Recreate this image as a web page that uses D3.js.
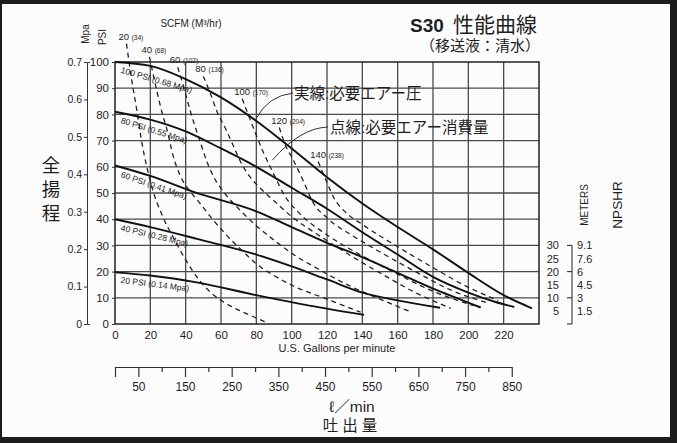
<!DOCTYPE html>
<html><head><meta charset="utf-8">
<script src="https://cdn.jsdelivr.net/npm/d3@7"></script>
<style>
html,body{margin:0;padding:0;background:#1c1c1c;}
svg{display:block;}
text{font-family:"Liberation Sans",Arial,sans-serif;fill:#1e1e1e;}
.jp{font-family:"Liberation Sans","Noto Sans CJK JP",sans-serif;}
</style></head><body>
<svg id="chart" width="677" height="443"></svg>
<script>
// ---- axis ticks ----
const gpmTicks = d3.range(0, 221, 20);
const psiTicks = d3.range(0, 101, 10);
const mpaTicks = [0, 0.1, 0.2, 0.3, 0.4, 0.5, 0.6, 0.7];
const lpmTicks = d3.range(0, 851, 50);
const npshFeet = [30, 25, 20, 15, 10, 5];
const npshMeters = ["9.1", "7.6", "6", "4.5", "3", "1.5"];

// ---- head vs flow at each air inlet pressure (GPM, PSI) ----
const psi100 = [[0,100],[20,98.5],[40,93.5],[60,86.5],[80,77.5],[100,67],[120,56],[140,46],[160,37],[180,28.5],[200,19.5],[220,11],[236,6]];
const psi80  = [[0,81],[20,78],[40,73.5],[60,67],[80,60],[100,52],[120,44],[140,35],[160,26.5],[180,18],[200,12],[215,8.5],[226,6.5]];
const psi60  = [[0,60.5],[20,56.5],[45,50.3],[80,43],[100,37],[120,31],[140,25.5],[160,19.5],[180,13.5],[195,9.5],[207,6.3]];
const psi40  = [[0,40],[20,37],[47,32.4],[80,26.5],[100,22],[120,17],[140,12],[160,9],[184,6.2]];
const psi20  = [[0,19.7],[20,18.5],[47,15.8],[80,11],[110,7],[141,3.5]];
const pressureLabels = ["100 PSI (0.68 Mpa)", "80 PSI (0.55 Mpa)", "60 PSI (0.41 Mpa)", "40 PSI (0.28 Mpa)", "20 PSI (0.14 Mpa)"];

// ---- air consumption lines, SCFM (GPM, PSI) ----
const scfm20  = [[6.5,107],[9.5,93],[12.5,81],[15,70],[18,60],[21,52],[27,41],[33,33],[40,24.5],[48,16.5],[56,11],[65,7],[75,3.8],[86,0.5]];
const scfm40  = [[19.5,102],[23.5,89.5],[26.5,81],[29.5,74],[33,64],[37,56.5],[42,51],[47,47],[54,41],[63,34],[72,28],[80,23],[90,18.5],[101,14.5],[120,9.5],[139,4.5]];
const scfm60  = [[35.5,98],[39.5,89],[42.5,81.5],[45.5,75],[48.5,69],[52,62],[56,56],[62,50],[70,44],[80,37.5],[90,32],[100,27],[115,21],[130,15.5],[150,9.5],[168,4.5]];
const scfm80  = [[50,94.5],[54,88],[57.5,81.5],[63,74],[67,68],[71,62],[76,56.5],[82,52],[90,47],[100,41],[115,34],[130,27.5],[150,19.5],[170,12],[190,6]];
const scfm100 = [[72,86],[76.5,78],[80,72],[84,65.5],[90,57],[96,49],[104,42.5],[120,34],[140,26],[160,19],[180,12.5],[203,7]];
const scfm120 = [[93,75],[96,69],[101,62.5],[107,54],[112,46.5],[120,40.5],[135,33.5],[150,27.5],[170,20],[190,13],[211,8]];
const scfm140 = [[115,62],[120,54],[124,48],[130,43],[140,38],[160,29.5],[180,21.5],[200,14],[217,9]];
const scfmValues = ["20", "40", "60", "80", "100", "120", "140"];
const scfmM3 = ["(34)", "(68)", "(102)", "(136)", "(170)", "(204)", "(238)"];

const pressureCurves = [psi100, psi80, psi60, psi40, psi20];
const airCurves = [scfm20, scfm40, scfm60, scfm80, scfm100, scfm120, scfm140];

const svg = d3.select("#chart");
const W = 677, H = 443;

// page
svg.append("rect").attr("width", W).attr("height", H).attr("fill", "#1c1c1c");
svg.append("rect").attr("x", 2).attr("y", 4).attr("width", 668).attr("height", 433).attr("fill", "#fcfcfc");

// scales
const x = d3.scaleLinear().domain([0, 240]).range([115, 539]);
const y = d3.scaleLinear().domain([0, 100]).range([324, 62]);
const yM = d3.scaleLinear().domain([0, 0.7]).range([324, 62]);
const LPG = 3.785;
const xL = d3.scaleLinear().domain([0, 850]).range([x(0), x(850 / LPG)]);

// grid
const grid = svg.append("g").attr("stroke", "#4a4a4a").attr("stroke-width", 1.3);
d3.range(20, 240, 20).forEach(v => grid.append("line")
  .attr("x1", x(v)).attr("x2", x(v)).attr("y1", y(0)).attr("y2", y(100)));
d3.range(10, 100, 10).forEach(v => grid.append("line")
  .attr("x1", x(0)).attr("x2", x(240)).attr("y1", y(v)).attr("y2", y(v)));
svg.append("rect").attr("x", x(0)).attr("y", y(100))
  .attr("width", x(240) - x(0)).attr("height", y(0) - y(100))
  .attr("fill", "none").attr("stroke", "#222").attr("stroke-width", 1.5);

function styleAxis(g, size) {
  g.selectAll("text").attr("font-family", "Liberation Sans, Arial, sans-serif")
    .attr("font-size", size).attr("fill", "#222");
  g.selectAll("line,path").attr("stroke", "#333");
  g.attr("font-family", null).attr("font-size", null);
}

// PSI axis
const gPsi = svg.append("g").attr("transform", `translate(${x(0)},0)`)
  .call(d3.axisLeft(y).tickValues(psiTicks).tickSize(3).tickPadding(3).tickSizeOuter(0));
gPsi.select(".domain").remove();
styleAxis(gPsi, 11.5);

// Mpa axis
const gMpa = svg.append("g").attr("transform", "translate(87,0)")
  .call(d3.axisLeft(yM).tickValues(mpaTicks).tickSize(3).tickPadding(2).tickSizeOuter(-3)
    .tickFormat(d => d === 0 ? "0" : d.toFixed(1)));
styleAxis(gMpa, 10.5);
gMpa.selectAll("text").attr("fill", "#333");

// GPM axis
const gX = svg.append("g").attr("transform", `translate(0,${y(0)})`)
  .call(d3.axisBottom(x).tickValues(gpmTicks).tickSize(0).tickPadding(7));
gX.select(".domain").remove();
styleAxis(gX, 11.5);

svg.append("text").attr("x", 337).attr("y", 352).attr("text-anchor", "middle")
  .attr("font-size", 11).text("U.S. Gallons per minute");

// l/min axis
const gL = svg.append("g").attr("transform", "translate(0,367)")
  .call(d3.axisBottom(xL).tickValues(lpmTicks).tickSize(10).tickPadding(5).tickSizeOuter(0)
    .tickFormat(d => (d % 100 === 50) ? d : ""));
gL.selectAll(".tick line").filter(d => d % 100 === 0 && d > 0).attr("y2", 5);
styleAxis(gL, 12);
gL.selectAll("line,path").attr("stroke", "#333").attr("stroke-width", 1.2);

svg.append("text").attr("class", "jp").attr("x", 352).attr("y", 412).attr("text-anchor", "middle")
  .attr("font-size", 15.5).text("ℓ／min");
svg.append("text").attr("class", "jp").attr("x", 352).attr("y", 431).attr("text-anchor", "middle")
  .attr("font-size", 15.5).attr("letter-spacing", 4).text("吐出量");

// axis titles
svg.append("text").attr("transform", "translate(89,34) rotate(-90)").attr("text-anchor", "middle")
  .attr("font-size", 10).text("Mpa");
svg.append("text").attr("transform", "translate(106,37) rotate(-90)").attr("text-anchor", "middle")
  .attr("font-size", 10).text("PSI");
svg.append("text").attr("x", 191).attr("y", 27).attr("text-anchor", "middle")
  .attr("font-size", 10).text("SCFM (M³/hr)");
["全", "揚", "程"].forEach((c, i) => svg.append("text").attr("class", "jp")
  .attr("x", 51).attr("y", 172 + i * 24).attr("text-anchor", "middle").attr("font-size", 18.5).text(c));

// title
svg.append("text").attr("x", 410).attr("y", 32).attr("font-size", 19)
  .attr("font-weight", "bold").text("S30");
svg.append("text").attr("class", "jp").attr("x", 537).attr("y", 32).attr("text-anchor", "end")
  .attr("font-size", 21).text("性能曲線");
svg.append("text").attr("class", "jp").attr("x", 540).attr("y", 51).attr("text-anchor", "end")
  .attr("font-size", 15).text("（移送液：清水）");

// curves
const line = d3.line().x(d => x(d[0])).y(d => y(d[1])).curve(d3.curveMonotoneX);
svg.append("g").selectAll("path").data(airCurves).join("path")
  .attr("d", line).attr("fill", "none").attr("stroke", "#222").attr("stroke-width", 1.3)
  .attr("stroke-dasharray", "5,4");
svg.append("g").selectAll("path").data(pressureCurves).join("path")
  .attr("d", line).attr("fill", "none").attr("stroke", "#111").attr("stroke-width", 1.9);

// pressure curve labels, laid along each curve
pressureCurves.forEach((c, i) => {
  const f = d3.scaleLinear().domain(c.map(p => p[0])).range(c.map(p => p[1]));
  const x0 = 3, x1 = 46;
  const ang = Math.atan2(y(f(x1)) - y(f(x0)), x(x1) - x(x0)) * 180 / Math.PI;
  svg.append("text")
    .attr("transform", `translate(${x(x0)},${y(f(x0)) + 10}) rotate(${ang})`)
    .attr("font-size", 8.5).attr("fill", "#333").text(pressureLabels[i]);
});

// SCFM labels at the head of each dashed line
airCurves.forEach((c, i) => {
  const s = c[0];
  const g = svg.append("text").attr("x", x(s[0]) - 8).attr("y", y(s[1]) - 4).attr("font-size", 9.5);
  g.append("tspan").text(scfmValues[i] + " ");
  g.append("tspan").attr("font-size", 6.5).text(scfmM3[i]);
});

// annotations with leaders
svg.append("text").attr("class", "jp").attr("x", 294).attr("y", 99).attr("font-size", 15.5).text("実線:必要エアー圧");
svg.append("text").attr("class", "jp").attr("x", 330).attr("y", 133).attr("font-size", 15.5).text("点線:必要エアー消費量");
const lead1 = [x(80), y(78.5)], lead2 = [x(89), y(62.5)];
svg.append("path").attr("d", `M293,93 Q268,96 ${lead1[0]},${lead1[1]}`)
  .attr("fill", "none").attr("stroke", "#333").attr("stroke-width", 1);
svg.append("path").attr("d", `M328,127 Q300,128 ${lead2[0]},${lead2[1]}`)
  .attr("fill", "none").attr("stroke", "#333").attr("stroke-width", 1);

// NPSHR scale
const bx = 572;
const gN = svg.append("g").attr("stroke", "#333").attr("stroke-width", 1.1);
gN.append("line").attr("x1", bx).attr("x2", bx).attr("y1", y(30)).attr("y2", y(0));
[30, 20, 10, 0].forEach(v => gN.append("line").attr("x1", bx - 5).attr("x2", bx).attr("y1", y(v)).attr("y2", y(v)));
npshFeet.forEach((v, i) => {
  svg.append("text").attr("x", 559).attr("y", y(v) + 4).attr("text-anchor", "end").attr("font-size", 11).text(v);
  svg.append("text").attr("x", 577).attr("y", y(v) + 4).attr("font-size", 11).text(npshMeters[i]);
});
svg.append("text").attr("transform", "translate(588,205) rotate(-90)").attr("text-anchor", "middle")
  .attr("font-size", 10).text("METERS");
svg.append("text").attr("transform", "translate(622,205) rotate(-90)").attr("text-anchor", "middle")
  .attr("font-size", 13.5).text("NPSHR");
</script></body></html>
